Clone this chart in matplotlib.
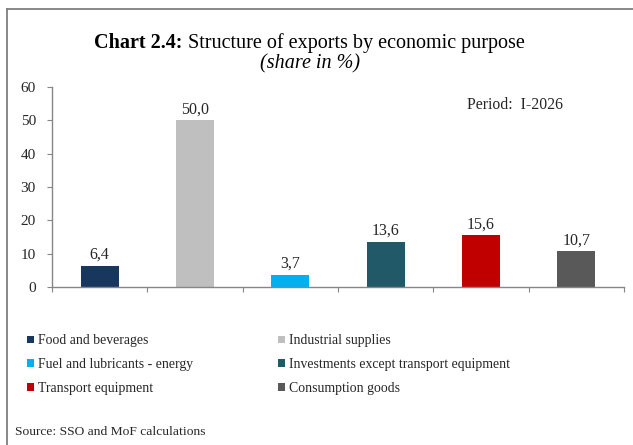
import matplotlib
matplotlib.use("Agg")
import matplotlib.pyplot as plt
from matplotlib.lines import Line2D
from matplotlib.patches import Patch
import numpy as np

categories = [
    "Food and beverages",
    "Industrial supplies",
    "Fuel and lubricants - energy",
    "Investments except transport equipment",
    "Transport equipment",
    "Consumption goods",
]
shares = [6.4, 50.0, 3.7, 13.6, 15.6, 10.7]
colors = ["#17375E", "#BFBFBF", "#00B0F0", "#215968", "#C00000", "#595959"]
y_ticks = [0, 10, 20, 30, 40, 50, 60]

plt.rcParams["font.family"] = ["Liberation Serif", "DejaVu Serif"]

W, H = 633, 445
fig = plt.figure(figsize=(W / 100, H / 100), dpi=100)
fig.patch.set_facecolor("white")

# outer frame (top and left edges)
frame_col = "#7F7F7F"
fig.add_artist(Line2D([7 / W, 7 / W], [0, 1 - 9 / H], transform=fig.transFigure,
                      color=frame_col, lw=1.3))
fig.add_artist(Line2D([7 / W, 1], [1 - 9 / H, 1 - 9 / H], transform=fig.transFigure,
                      color=frame_col, lw=1.3))

ax = fig.add_axes([52 / W, 1 - 287 / H, (624 - 52) / W, (287 - 87) / H])
x = np.arange(len(categories))
ax.bar(x, shares, width=0.4, color=colors, zorder=2)

for xi, v in zip(x, shares):
    ax.text(xi, v + 0.8, f"{v:.1f}".replace(".", ","), ha="center", va="bottom",
            fontsize=11.5, color="#262626")

ax.set_xlim(-0.5, len(categories) - 0.5)
ax.set_ylim(0, 60)
ax.set_yticks(y_ticks)
ax.set_yticklabels([str(t) for t in y_ticks], fontsize=11, color="#262626")
ax.set_xticks(np.arange(len(categories) + 1) - 0.5)
ax.set_xticklabels([])
ax.tick_params(axis="y", direction="out", length=3.6, color="#868686", pad=8)
ax.tick_params(axis="x", direction="out", length=3.6, color="#868686")
for s in ["top", "right"]:
    ax.spines[s].set_visible(False)
for s in ["left", "bottom"]:
    ax.spines[s].set_color("#868686")
    ax.spines[s].set_linewidth(1.0)

fig.text(467 / W, 1 - 105 / H, "Period:  I-2026", fontsize=11.3,
         color="#262626", va="center", ha="left")

# title: bold prefix followed by regular text, centred as one line
renderer = fig.canvas.get_renderer()
title_y = 1 - 43 / H
t_bold = fig.text(0, title_y, "Chart 2.4:", fontsize=14.5, fontweight="bold",
                  va="center", ha="left", color="black")
t_rest = fig.text(0, title_y, " Structure of exports by economic purpose",
                  fontsize=14.5, va="center", ha="left", color="black")
w_bold = t_bold.get_window_extent(renderer).width
w_rest = t_rest.get_window_extent(renderer).width
start = 309.5 - (w_bold + w_rest) / 2
t_bold.set_x(start / W)
t_rest.set_x((start + w_bold) / W)

fig.text(310 / W, 1 - 64 / H, "(share in %)", ha="center", va="center",
         fontsize=14.5, style="italic", color="black")

# legend, filled row by row
order = [0, 2, 4, 1, 3, 5]
handles = [Patch(facecolor=colors[i], edgecolor="none") for i in order]
labels = [categories[i] for i in order]
leg = fig.legend(handles, labels, loc="upper left",
                 bbox_to_anchor=(15 / W, 1 - 322 / H), ncol=2, frameon=False,
                 fontsize=9.9, handlelength=0.45, handleheight=0.5,
                 handletextpad=0.33, columnspacing=6.2, labelspacing=0.78)
for t in leg.get_texts():
    t.set_color("#262626")

fig.text(15 / W, 1 - 432 / H, "Source: SSO and MoF calculations", ha="left",
         va="center", fontsize=9.7, color="#262626")

fig.savefig("out.png", dpi=100)
